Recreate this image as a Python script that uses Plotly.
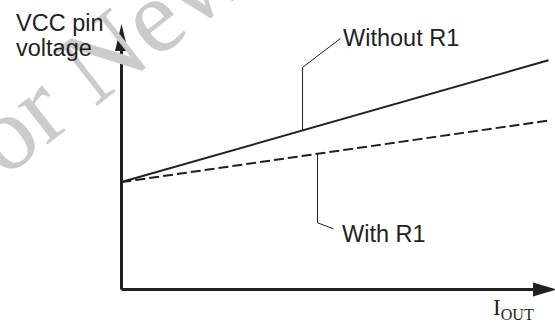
import plotly.graph_objects as go

# ---- data (arbitrary units, schematic) ----
iout = [0.0, 1.0]
vcc_without_r1 = [0.41, 0.875]
vcc_with_r1 = [0.41, 0.645]
y_label_lines = ["VCC pin", "voltage"]
x_label = "I<sub>OUT</sub>"
series_names = ["Without R1", "With R1"]

W, H = 555, 324
X0_PX, Y0_PX = 121.5, 289.5      # pixel of data origin
SX, SY = 427.0, 262.0            # pixels per data unit
xr = [-X0_PX / SX, (W - X0_PX) / SX]
yr = [(Y0_PX - H) / SY, Y0_PX / SY]

def dx(px):  # pixel offset -> data units (x)
    return px / SX

def dy(px):  # pixel offset -> data units (y)
    return px / SY

INK = "#231f20"
fig = go.Figure()
fig.add_trace(go.Scatter(x=iout, y=vcc_without_r1, mode="lines",
                         line=dict(color=INK, width=2), name=series_names[0]))
fig.add_trace(go.Scatter(x=iout, y=vcc_with_r1, mode="lines",
                         line=dict(color=INK, width=2, dash="10px,4px"), name=series_names[1]))

shapes = []
# axes
x_end = xr[1] + dx(2)
y_end = yr[1] - dy(24)
shapes.append(dict(type="line", xref="x", yref="y", x0=0, y0=0, x1=x_end - dx(20), y1=0,
                   line=dict(color=INK, width=3)))
shapes.append(dict(type="line", xref="x", yref="y", x0=0, y0=0, x1=0, y1=y_end - dy(20),
                   line=dict(color=INK, width=3)))
# arrow heads
shapes.append(dict(type="path", xref="x", yref="y",
                   path=f"M {x_end} 0 L {x_end - dx(24)} {dy(7)} L {x_end - dx(24)} {-dy(7)} Z",
                   fillcolor=INK, line=dict(color=INK, width=0)))
shapes.append(dict(type="path", xref="x", yref="y",
                   path=f"M 0 {y_end} L {dx(6.5)} {y_end - dy(27)} L {-dx(6.5)} {y_end - dy(27)} Z",
                   fillcolor=INK, line=dict(color=INK, width=0)))

def interp(xs, ys, x):
    return ys[0] + (ys[1] - ys[0]) * (x - xs[0]) / (xs[1] - xs[0])

# leader for "Without R1"
xa = 0.424
ya = interp(iout, vcc_without_r1, xa)
yb = ya + dy(63)
xc, yc = xa + dx(38), yb + dy(29)
shapes.append(dict(type="path", xref="x", yref="y",
                   path=f"M {xa} {ya} L {xa} {yb} L {xc} {yc}",
                   line=dict(color=INK, width=1)))
lbl1 = (xc + dx(0), yc - dy(0))
# leader for "With R1"
xa2 = 0.459
ya2 = interp(iout, vcc_with_r1, xa2)
yb2 = ya2 - dy(69)
xc2, yc2 = xa2 + dx(16), yb2 - dy(6)
shapes.append(dict(type="path", xref="x", yref="y",
                   path=f"M {xa2} {ya2} L {xa2} {yb2} L {xc2} {yc2}",
                   line=dict(color=INK, width=1)))
lbl2 = (xc2 + dx(7), yc2 - dy(5))

font = dict(family="Arial, Liberation Sans, sans-serif", size=23.5, color=INK)
ann = [
    # faint watermark (drawn first)
    dict(x=92 / W, y=1 - 64 / H, xref="paper", yref="paper", text="for New", showarrow=False,
         xanchor="center", yanchor="middle", textangle=-38,
         font=dict(family="Liberation Serif, Times New Roman, serif", size=106, color="#cbcbcb")),
    dict(x=lbl1[0], y=lbl1[1], xref="x", yref="y", text=series_names[0], showarrow=False,
         xanchor="left", yanchor="middle", font=font),
    dict(x=lbl2[0], y=lbl2[1], xref="x", yref="y", text=series_names[1], showarrow=False,
         xanchor="left", yanchor="middle", font=font),
    dict(x=14 / W, y=1 - 23 / H, xref="paper", yref="paper", text=y_label_lines[0],
         showarrow=False, xanchor="left", yanchor="middle", font=font),
    dict(x=14 / W, y=1 - 48 / H, xref="paper", yref="paper", text=y_label_lines[1],
         showarrow=False, xanchor="left", yanchor="middle", font=font),
    dict(x=513 / W, y=1 - 309 / H, xref="paper", yref="paper", text=x_label, showarrow=False,
         xanchor="center", yanchor="middle",
         font=dict(family="Liberation Serif, Times New Roman, serif", size=23, color=INK)),
]

fig.update_layout(
    width=W, height=H, margin=dict(l=0, r=0, t=0, b=0),
    paper_bgcolor="white", plot_bgcolor="white", showlegend=False,
    xaxis=dict(range=xr, visible=False, fixedrange=True),
    yaxis=dict(range=yr, visible=False, fixedrange=True),
    shapes=shapes, annotations=ann,
)
fig.write_html("out.html", config={"displayModeBar": False},
               post_script="document.body.style.margin='0px';document.body.style.overflow='hidden';")
